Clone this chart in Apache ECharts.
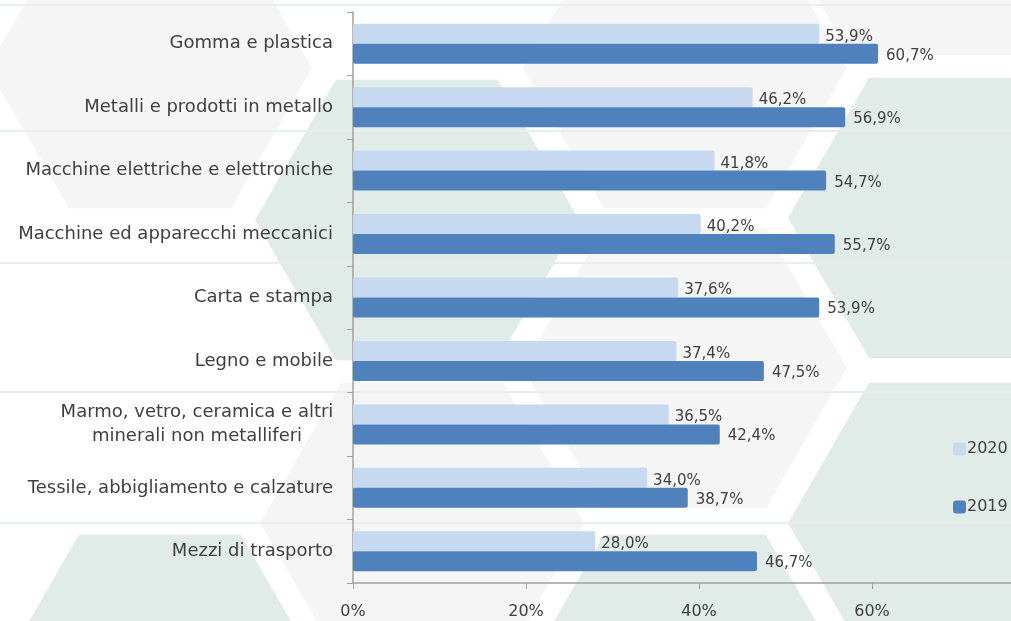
<!DOCTYPE html>
<html>
<head>
<meta charset="utf-8">
<script src="https://cdn.jsdelivr.net/npm/echarts@6/dist/echarts.min.js"></script>
<style>
  html, body { margin: 0; padding: 0; background: #fff; }
  #chart { width: 1011px; height: 621px; }
</style>
</head>
<body>
<div id="chart"></div>
<script>
var categories = [
  'Gomma e plastica',
  'Metalli e prodotti in metallo',
  'Macchine elettriche e elettroniche',
  'Macchine ed apparecchi meccanici',
  'Carta e stampa',
  'Legno e mobile',
  'Marmo, vetro, ceramica e altri\nminerali non metalliferi',
  'Tessile, abbigliamento e calzature',
  'Mezzi di trasporto'
];
var values2020 = [53.9, 46.2, 41.8, 40.2, 37.6, 37.4, 36.5, 34.0, 28.0];
var values2019 = [60.7, 56.9, 54.7, 55.7, 53.9, 47.5, 42.4, 38.7, 46.7];

var FONT = 'DejaVu Sans';
var TXT = '#404040';

// decorative hexagon background
function hex(cx, cy, r, color) {
  var h = r * Math.sqrt(3) / 2;
  return {
    type: 'polygon',
    silent: true,
    z: -10,
    shape: { points: [[cx - r, cy], [cx - r / 2, cy - h], [cx + r / 2, cy - h], [cx + r, cy], [cx + r / 2, cy + h], [cx - r / 2, cy + h]] },
    style: { fill: color }
  };
}
function hline(y) {
  return { type: 'line', silent: true, z: -9, shape: { x1: 0, y1: y, x2: 1011, y2: y }, style: { stroke: '#e6efec', lineWidth: 2 } };
}
var GRAY = '#f5f5f5', GREEN = '#e1ece9';
var bg = [
  hex(150, 68, 162, GRAY),
  hex(685, 68, 162, GRAY),
  hex(931, -85, 162, GRAY),
  hex(685, 368, 162, GRAY),
  hex(422, 523, 162, GRAY),
  hex(417, 220, 162, GREEN),
  hex(950, 218, 162, GREEN),
  hex(950, 523, 162, GREEN),
  hex(160, 675, 162, GREEN),
  hex(685, 675, 162, GREEN),
  hline(5), hline(131), hline(263), hline(392), hline(523)
];

function pct(p) {
  return p.value.toFixed(1).replace('.', ',') + '%';
}

var chart = echarts.init(document.getElementById('chart'));
chart.setOption({
  animation: false,
  textStyle: { fontFamily: FONT },
  graphic: bg,
  legend: {
    orient: 'vertical',
    left: 948,
    top: 436,
    itemWidth: 13,
    itemHeight: 13,
    itemGap: 42,
    icon: 'roundRect',
    data: ['2020', '2019'],
    textStyle: { fontFamily: FONT, fontSize: 16, color: TXT, padding: [0, 0, 0, -4] }
  },
  grid: {
    left: 353,
    top: 12,
    width: 692,
    height: 571,
    outerBoundsMode: 'none',
    containLabel: false
  },
  xAxis: {
    type: 'value',
    min: 0,
    max: 80,
    interval: 20,
    axisLine: { show: true, lineStyle: { color: '#a0a0a0', width: 1.5 } },
    axisTick: { show: true, length: 6, lineStyle: { color: '#a0a0a0' } },
    splitLine: { show: false },
    axisLabel: {
      margin: 21,
      fontFamily: FONT,
      fontSize: 16,
      color: TXT,
      formatter: '{value}%'
    }
  },
  yAxis: {
    type: 'category',
    inverse: true,
    data: categories,
    axisLine: { show: true, lineStyle: { color: '#a0a0a0', width: 1.5 } },
    axisTick: { show: true, length: 6, lineStyle: { color: '#a0a0a0' } },
    axisLabel: {
      margin: 20,
      fontFamily: FONT,
      fontSize: 18,
      color: TXT,
      lineHeight: 24,
      formatter: function (v) {
        if (v.indexOf('\n') >= 0) {
          return v.split('\n').map(function (s) { return '{c|' + s + '}'; }).join('\n');
        }
        return v;
      },
      rich: {
        c: { width: 272, align: 'center', fontFamily: FONT, fontSize: 18, color: TXT, lineHeight: 24 }
      }
    }
  },
  series: [
    {
      name: '2020',
      type: 'bar',
      data: values2020,
      barWidth: 20,
      barGap: '0%',
      itemStyle: { color: '#c6d9f0', borderRadius: 2 },
      label: {
        show: true,
        position: 'right',
        distance: 6,
        offset: [0, 3],
        fontFamily: FONT,
        fontSize: 15,
        color: TXT,
        formatter: pct
      }
    },
    {
      name: '2019',
      type: 'bar',
      data: values2019,
      barWidth: 20,
      itemStyle: { color: '#4f81bd', borderRadius: 2 },
      label: {
        show: true,
        position: 'right',
        distance: 8,
        offset: [0, 2],
        fontFamily: FONT,
        fontSize: 15,
        color: TXT,
        formatter: pct
      }
    }
  ]
});
</script>
</body>
</html>
